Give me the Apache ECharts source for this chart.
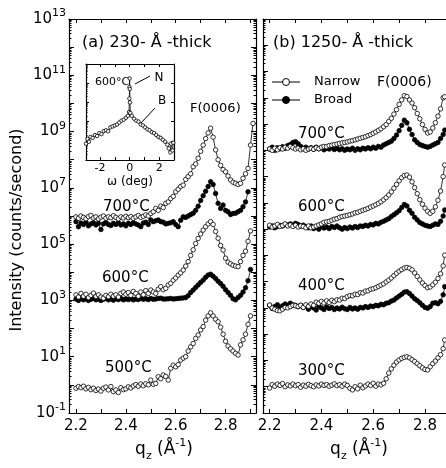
<!DOCTYPE html>
<html><head><meta charset="utf-8">
<script src="https://cdn.jsdelivr.net/npm/echarts@6/dist/echarts.min.js"></script>
<style>html,body{margin:0;padding:0;background:#fff}#c{width:446px;height:468px}</style>
</head><body><div id="c"></div>
<script>
// ---- data (intensities are log10 of counts/second) ----
const qA = [2.20,2.21,2.22,2.23,2.24,2.25,2.26,2.27,2.28,2.29,2.30,2.31,2.32,2.33,2.34,2.35,2.36,2.37,2.38,2.39,2.40,2.41,2.42,2.43,2.44,2.45,2.46,2.47,2.48,2.49,2.50,2.51,2.52,2.53,2.54,2.55,2.56,2.57,2.58,2.59,2.60,2.61,2.62,2.63,2.64,2.65,2.66,2.67,2.68,2.69,2.70,2.71,2.72,2.73,2.74,2.75,2.76,2.77,2.78,2.79,2.80,2.81,2.82,2.83,2.84,2.85,2.86,2.87,2.88,2.89,2.90,2.91];
const a500N = [-0.12,-0.06,-0.10,-0.05,-0.14,-0.09,-0.17,-0.12,-0.20,-0.15,
 -0.22,-0.12,-0.08,-0.18,-0.06,-0.24,-0.18,-0.27,-0.10,-0.17,
 -0.14,-0.07,-0.11,-0.04,0.01,-0.05,0.03,-0.03,0.04,0.00,
 0.17,0.02,0.05,0.29,0.22,0.35,0.30,0.17,0.59,0.70,
 0.64,0.72,0.88,0.95,1.00,1.20,1.35,1.47,1.65,1.77,
 1.95,2.07,2.30,2.45,2.56,2.45,2.33,2.24,2.05,1.80,
 1.55,1.38,1.28,1.20,1.12,1.06,1.42,1.60,1.80,2.15,2.45];
const a600N = [3.20,3.12,3.25,3.15,3.22,3.10,3.18,3.26,3.14,3.20,
 3.12,3.08,3.18,3.13,3.22,3.15,3.20,3.12,3.25,3.30,
 3.22,3.28,3.18,3.32,3.25,3.15,3.30,3.20,3.35,3.25,
 3.37,3.30,3.25,3.40,3.49,3.38,3.43,3.55,3.61,3.72,
 3.80,3.90,3.98,4.08,4.22,4.38,4.60,4.80,5.02,5.20,
 5.36,5.50,5.62,5.72,5.80,5.70,5.45,5.21,4.95,4.79,
 4.50,4.36,4.30,4.25,4.22,4.20,4.38,4.60,4.75,5.10,5.47];
const a600B = [3.05,3.00,3.08,3.02,3.06,3.00,3.04,3.08,3.02,3.05,
 3.00,3.04,3.07,3.02,3.05,3.01,3.06,3.03,3.07,3.02,
 3.05,3.03,3.06,3.02,3.05,3.03,3.07,3.04,3.06,3.03,
 3.07,3.04,3.05,3.07,3.08,3.05,3.05,3.06,3.07,3.05,
 3.06,3.07,3.08,3.09,3.10,3.17,3.28,3.37,3.46,3.55,
 3.64,3.72,3.82,3.90,3.93,3.86,3.78,3.68,3.60,3.50,
 3.38,3.28,3.18,3.06,3.02,3.10,3.18,3.30,3.45,3.70,4.10];
const a700N = [5.97,5.92,6.00,5.95,5.90,5.98,6.02,5.93,5.97,5.90,
 5.96,6.00,5.92,5.97,5.94,6.01,5.95,5.90,5.97,5.93,
 5.99,5.94,5.98,5.92,5.97,6.02,5.95,5.99,6.04,6.00,
 6.09,6.15,6.27,6.20,6.35,6.30,6.45,6.50,6.62,6.70,
 6.86,6.95,7.05,7.10,7.30,7.40,7.50,7.75,7.85,8.05,
 8.30,8.52,8.75,8.95,9.12,8.80,8.35,8.00,7.80,7.65,
 7.57,7.42,7.28,7.20,7.16,7.12,7.16,7.34,7.50,7.69,8.52,9.29];
const a700B = [5.80,5.62,5.75,5.70,5.78,5.65,5.72,5.76,5.68,5.74,
 5.52,5.72,5.77,5.70,5.66,5.74,5.70,5.76,5.68,5.72,
 5.65,5.74,5.70,5.76,5.72,5.68,5.62,5.75,5.78,5.70,
 5.86,5.80,5.83,5.86,5.80,5.78,5.72,5.74,5.76,5.80,
 5.70,5.62,5.85,5.97,5.95,6.00,6.05,6.10,6.20,6.35,
 6.55,6.72,6.88,7.05,7.22,7.12,6.80,6.45,6.27,6.39,
 6.20,6.15,6.05,6.09,6.10,6.15,6.20,6.33,6.50,6.86];

const qB = [2.20,2.21,2.22,2.23,2.24,2.25,2.26,2.27,2.28,2.29,2.30,2.31,2.32,2.33,2.34,2.35,2.36,2.37,2.38,2.39,2.40,2.41,2.42,2.43,2.44,2.45,2.46,2.47,2.48,2.49,2.50,2.51,2.52,2.53,2.54,2.55,2.56,2.57,2.58,2.59,2.60,2.61,2.62,2.63,2.64,2.65,2.66,2.67,2.68,2.69,2.70,2.71,2.72,2.73,2.74,2.75,2.76,2.77,2.78,2.79,2.80,2.81,2.82,2.83,2.84,2.85,2.86,2.87,2.876];
const b300N = [-0.05,0.08,0.02,0.10,0.05,0.12,0.00,0.07,0.03,0.10,
 0.04,0.08,-0.02,0.06,0.02,0.09,0.04,0.00,0.07,0.03,
 0.10,0.05,0.08,0.02,0.06,0.11,0.04,0.08,0.02,0.10,
 0.05,-0.06,-0.12,0.00,-0.08,0.06,-0.04,0.03,0.10,0.05,
 0.13,0.02,0.10,0.07,0.13,0.30,0.52,0.68,0.82,0.94,
 1.02,1.08,1.12,1.14,1.10,1.03,0.96,0.88,0.80,0.72,
 0.66,0.64,0.76,0.88,0.98,1.10,1.22,1.45,1.78];
const b400N = [3.11,3.00,2.95,2.90,2.89,2.95,3.02,3.00,3.05,3.10,
 3.08,3.05,3.10,3.02,3.12,3.06,3.15,3.10,3.22,3.18,
 3.25,3.19,3.27,3.21,3.29,3.24,3.31,3.30,3.37,3.36,
 3.43,3.47,3.46,3.52,3.51,3.58,3.57,3.64,3.65,3.71,
 3.73,3.77,3.82,3.87,3.92,3.99,4.06,4.14,4.23,4.32,
 4.40,4.46,4.52,4.54,4.51,4.45,4.33,4.20,4.07,3.95,
 3.85,3.77,3.80,3.88,3.98,4.12,4.30,4.60,5.01];
const b400B = [3.10,2.98,3.05,3.12,3.00,3.08,3.15,3.10,3.18,3.12,
 3.10,3.05,3.10,3.02,3.08,2.95,3.05,3.00,2.92,3.06,
 3.00,2.94,3.04,2.98,3.02,2.94,3.00,2.96,3.03,2.97,
 2.94,3.02,2.96,3.00,2.95,3.02,3.00,3.05,3.02,3.07,
 3.05,3.10,3.08,3.14,3.12,3.18,3.20,3.26,3.30,3.38,
 3.45,3.52,3.60,3.62,3.55,3.45,3.35,3.28,3.20,3.10,
 3.02,2.99,3.05,3.18,3.20,3.16,3.25,3.50,3.81];
const b600N = [6.15,6.08,6.12,6.18,6.10,6.14,6.20,6.12,6.16,6.10,
 6.15,6.08,6.12,6.10,6.05,6.12,6.05,6.08,6.12,6.16,
 6.20,6.26,6.28,6.30,6.34,6.38,6.40,6.45,6.48,6.50,
 6.52,6.55,6.58,6.62,6.64,6.68,6.72,6.75,6.79,6.84,
 6.88,6.93,6.98,7.04,7.12,7.20,7.30,7.42,7.56,7.70,
 7.84,7.96,8.04,8.06,7.98,7.80,7.58,7.35,7.12,6.95,
 6.80,6.68,6.60,6.68,6.85,7.10,7.45,8.00,8.44];
const b600B = [6.08,6.12,6.05,6.10,6.14,6.12,6.18,6.15,6.20,6.16,
 6.22,6.18,6.12,6.15,6.10,6.05,6.12,6.02,6.08,6.00,
 6.10,6.04,6.08,6.02,6.10,6.06,6.12,6.05,6.00,6.06,
 6.02,6.08,6.04,6.10,6.06,6.12,6.10,6.15,6.12,6.18,
 6.16,6.22,6.20,6.26,6.30,6.35,6.40,6.48,6.55,6.62,
 6.70,6.82,6.94,6.88,6.72,6.60,6.45,6.35,6.25,6.20,
 6.15,6.12,6.10,6.15,6.20,6.18,6.30,6.50,6.73];
const b700N = [9.05,9.00,9.08,9.02,9.10,9.05,9.12,9.08,9.15,9.10,
 9.05,9.08,9.02,9.06,9.00,9.05,9.08,9.04,9.10,9.06,
 9.12,9.15,9.14,9.18,9.20,9.22,9.24,9.26,9.28,9.30,
 9.32,9.35,9.37,9.40,9.43,9.46,9.49,9.52,9.56,9.60,
 9.65,9.70,9.76,9.82,9.90,9.98,10.10,10.22,10.38,10.55,
 10.75,10.92,11.08,11.05,10.92,10.80,10.62,10.40,10.20,9.98,
 9.80,9.66,9.70,9.85,10.05,10.30,10.58,11.00,11.04];
const b700B = [9.05,9.12,9.00,9.10,9.06,9.14,9.08,9.18,9.22,9.30,
 9.33,9.25,9.15,9.08,9.12,9.05,9.10,9.04,9.12,9.06,
 9.10,9.02,9.08,9.05,9.10,9.03,9.08,9.02,9.06,9.00,
 9.05,9.02,9.08,9.00,9.06,9.02,9.08,9.05,9.10,9.06,
 9.12,9.08,9.15,9.12,9.20,9.25,9.30,9.35,9.45,9.58,
 9.75,9.95,10.15,10.05,9.80,9.60,9.40,9.30,9.22,9.18,
 9.15,9.12,9.15,9.20,9.25,9.30,9.45,9.60,9.77];

// inset: omega scan at 600 C (log10 intensity, arbitrary decades)
const omega = [-2.95,-2.85,-2.75,-2.65,-2.5,-2.35,-2.2,-2.05,-1.9,-1.75,-1.6,-1.45,-1.3,-1.15,-1.0,-0.85,-0.7,-0.55,-0.4,-0.25,-0.12,-0.04,-0.02,-0.01,0,0.01,0.02,0.05,0.15,0.3,0.45,0.6,0.75,0.9,1.05,1.2,1.35,1.5,1.65,1.8,1.95,2.1,2.25,2.4,2.55,2.65,2.75,2.8,2.9,2.95];
const insetI = [0.85,1.1,0.95,1.2,1.15,1.3,1.25,1.4,1.35,1.5,1.55,1.5,1.7,1.75,1.8,1.85,1.95,2.05,2.1,2.2,2.3,2.5,3.2,3.8,4.25,3.7,3.0,2.45,2.3,2.15,2.05,2.0,1.85,1.8,1.7,1.6,1.55,1.45,1.4,1.3,1.2,1.15,1.05,0.95,0.8,0.6,0.4,0.85,0.5,0.9];

// axis ticks / labels
const qTicks = [2.2,2.3,2.4,2.5,2.6,2.7,2.8,2.9];
const qLabels = [2.2,2.4,2.6,2.8];
const yLabelExp = [-1,1,3,5,7,9,11,13];
const decadesA = [-1,0,1,2,3,4,5,6,7,8,9,10,11,12,13];
const decadesB = [-1,0,1,2,3,4,5,6,7,8,9,10,11,12,13,14];
const wTicks = [-2,-1,0,1,2,3];
const wLabels = [-2,0,2];
const insetDecades = [0,1,2,3,4,5];

// ---- chart ----
const FF = '"DejaVu Sans", sans-serif';
const K = '#000';
function minorLog(lo, hi){ const o=[]; for(let n=lo;n<hi;n++) for(let k=2;k<=9;k++) o.push(n+Math.log10(k)); return o; }

function xAx(gi, min, max, pos, ticks, labels, fs, margin, len, fmt){
  return {gridIndex:gi, type:'value', min:min, max:max, position:pos,
    axisLine:{show:true, onZero:false, lineStyle:{color:K, width:1.2}},
    axisTick:{show:true, inside:true, length:len, customValues:ticks, lineStyle:{color:K, width:1}},
    axisLabel:{show:!!labels, customValues:labels||[0], fontSize:fs, fontFamily:FF, color:K, margin:margin, formatter:fmt},
    splitLine:{show:false}};
}
function yAx(gi, min, max, pos, ticks, len, showLine, labels){
  return {gridIndex:gi, type:'value', min:min, max:max, position:pos,
    axisLine:{show:showLine, onZero:false, lineStyle:{color:K, width:1.2}},
    axisTick:{show:true, inside:true, length:len, customValues:ticks, lineStyle:{color:K, width:1}},
    axisLabel:{show:!!labels, customValues:labels||[0], margin:3, color:K, fontFamily:FF,
      formatter:function(v){ return '{b|10}{s|' + Math.round(v) + '}'; },
      rich:{b:{fontSize:15, fontFamily:FF, color:K, lineHeight:22}, s:{fontSize:11, fontFamily:FF, color:K, lineHeight:12, verticalAlign:'top'}}},
    splitLine:{show:false}};
}
const fq = v => v.toFixed(1);
const fw = v => String(Math.round(v));

const xAxis = [
  xAx(0, 2.172, 2.922, 'bottom', qTicks, qLabels, 15, 6, 4, fq),
  xAx(0, 2.172, 2.922, 'top', qTicks, null, 15, 6, 4, fq),
  xAx(1, 2.1745, 2.9235, 'bottom', qTicks, qLabels, 15, 6, 4, fq),
  xAx(1, 2.1745, 2.9235, 'top', qTicks, null, 15, 6, 4, fq),
  xAx(2, -2.95, 3.0, 'bottom', wTicks, wLabels, 11, 3, 3, fw),
  xAx(2, -2.95, 3.0, 'top', wTicks, null, 11, 3, 3, fw)
];
const yAxis = [
  yAx(0, -1, 13, 'left', decadesA, 5, true, yLabelExp),
  yAx(0, -1, 13, 'left', minorLog(-1,13), 2.5, false, null),
  yAx(0, -1, 13, 'right', decadesA, 5, true, null),
  yAx(0, -1, 13, 'right', minorLog(-1,13), 2.5, false, null),
  yAx(1, -1, 14, 'left', decadesB, 5, true, null),
  yAx(1, -1, 14, 'left', minorLog(-1,14), 2.5, false, null),
  yAx(2, 0, 5, 'left', insetDecades, 3, true, null),
  yAx(2, 0, 5, 'right', insetDecades, 3, true, null),
  yAx(2, 0, 5, 'left', minorLog(0,5), 1.5, false, null)
];

function ser(name, xi, yi, xs, ys, filled, size){
  return {name:name, type:'line', xAxisIndex:xi, yAxisIndex:yi,
    data: ys.map((v,i)=>[xs[i], v]),
    symbol:'circle', symbolSize:size, showSymbol:true, showAllSymbol:true,
    itemStyle:{color: filled ? K : '#fff', borderColor:K, borderWidth:0.8},
    lineStyle:{color:K, width:0.8}, silent:true, animation:false, z: filled ? 3 : 4};
}
const series = [
  ser('Narrow', 0, 0, qA, a500N, false, 4.5),
  ser('Broad', 0, 0, qA, a600B, true, 4.5),
  ser('Narrow', 0, 0, qA, a600N, false, 4.5),
  ser('Broad', 0, 0, qA, a700B, true, 4.5),
  ser('Narrow', 0, 0, qA, a700N, false, 4.5),
  ser('Narrow', 2, 4, qB, b300N, false, 4.5),
  ser('Broad', 2, 4, qB, b400B, true, 4.5),
  ser('Narrow', 2, 4, qB, b400N, false, 4.5),
  ser('Broad', 2, 4, qB, b600B, true, 4.5),
  ser('Narrow', 2, 4, qB, b600N, false, 4.5),
  ser('Broad', 2, 4, qB, b700B, true, 4.5),
  ser('Narrow', 2, 4, qB, b700N, false, 4.5),
  ser('inset', 4, 6, omega, insetI, false, 3.5)
];

function txt(x, y, text, fs, align, extra){
  const st = Object.assign({text:text, x:0, y:0, fontSize:fs, fontFamily:FF, fill:K,
    align:align||'left', verticalAlign:'middle', textAlign:align||'left', textVerticalAlign:'middle'}, extra||{});
  return {type:'text', x:x, y:y, silent:true, z:100, style:st};
}
function ln(x1,y1,x2,y2){ return {type:'line', silent:true, z:100, shape:{x1:x1,y1:y1,x2:x2,y2:y2}, style:{stroke:K, lineWidth:1}}; }
const qRich = {n:{fontSize:17, fontFamily:FF, color:K, lineHeight:24},
  sub:{fontSize:11, fontFamily:FF, color:K, lineHeight:11, verticalAlign:'bottom'},
  sup:{fontSize:11, fontFamily:FF, color:K, lineHeight:11, verticalAlign:'top'}};
const qText = '{n|q}{sub|z}{n| (Å}{sup|-1}{n|)}';

const graphic = [
  txt(82, 43, '(a) 230- Å -thick', 16),
  txt(273, 43, '(b) 1250- Å -thick', 16),
  txt(190, 109, 'F(0006)', 13),
  txt(377, 82, 'F(0006)', 14),
  txt(103, 207, '700°C', 15), txt(102, 278, '600°C', 15), txt(105, 368, '500°C', 15),
  txt(298, 134, '700°C', 15), txt(298, 207, '600°C', 15), txt(298, 286, '400°C', 15), txt(298, 371, '300°C', 15),
  // legend
  ln(272, 82, 300, 82), {type:'circle', silent:true, z:101, shape:{cx:286, cy:82, r:3.5}, style:{fill:'#fff', stroke:K, lineWidth:1}},
  ln(272, 100, 300, 100), {type:'circle', silent:true, z:101, shape:{cx:286, cy:100, r:3.5}, style:{fill:K, stroke:K, lineWidth:1}},
  txt(314, 82, 'Narrow', 13), txt(314, 100, 'Broad', 13),
  // inset annotations
  txt(95, 82, '600°C', 11), txt(159, 78, 'N', 12, 'center'), txt(162, 101, 'B', 12, 'center'),
  ln(135, 84, 150, 76), ln(141, 123, 155, 108),
  txt(130, 182, 'ω (deg)', 12, 'center'),
  // axis titles
  {type:'text', x:17, y:230, rotation:Math.PI/2, silent:true, z:100,
    style:{text:'Intensity (counts/second)', x:0, y:0, fontSize:16, fontFamily:FF, fill:K, align:'center', verticalAlign:'middle', textAlign:'center', textVerticalAlign:'middle'}},
  txt(164, 450, qText, 17, 'center', {rich:qRich}),
  txt(359, 450, qText, 17, 'center', {rich:qRich})
];

const chart = echarts.init(document.getElementById('c'), null, {renderer:'canvas', width:446, height:468});
chart.setOption({
  animation:false,
  backgroundColor:'#fff',
  grid:[
    {left:69, top:19, width:187, height:394, containLabel:false, outerBoundsMode:'none'},
    {left:263, top:19, width:194, height:394, containLabel:false, outerBoundsMode:'none'},
    {left:86, top:64, width:88, height:96, containLabel:false, outerBoundsMode:'none'}
  ],
  xAxis: xAxis,
  yAxis: yAxis,
  series: series,
  graphic: graphic
});
</script>
</body></html>
